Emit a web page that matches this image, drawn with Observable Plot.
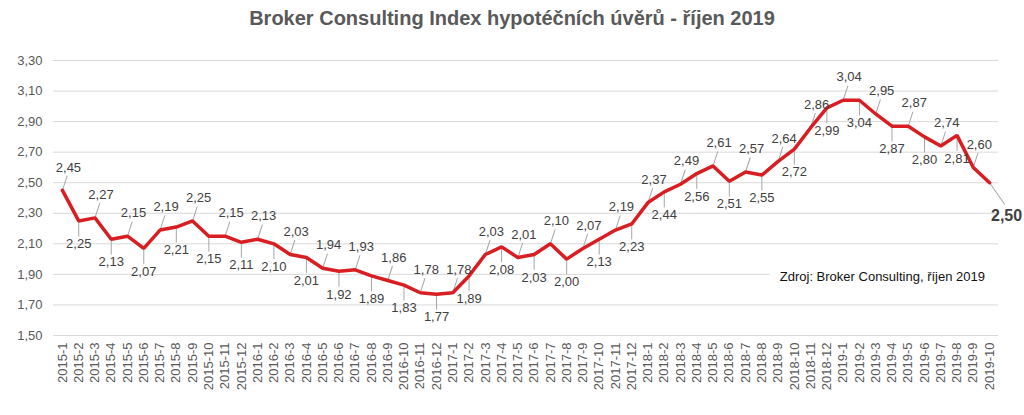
<!DOCTYPE html>
<html>
<head>
<meta charset="utf-8">
<script src="https://cdn.jsdelivr.net/npm/d3@7"></script>
<script src="https://cdn.jsdelivr.net/npm/@observablehq/plot@0.6"></script>
<style>
  body { margin: 0; background: #fff; font-family: "Liberation Sans", Arial, sans-serif; }
  #wrap { position: relative; width: 1024px; height: 415px; }
  #title { height: 36px; line-height: 37px; text-align: center; font-size: 20px; font-weight: bold; color: #595959; }
  #caption { position: absolute; left: 770px; top: 264px; width: 228px; height: 26px; line-height: 26px;
             background: #fff; text-align: right; font-size: 13px; color: #111; padding-right: 13px; box-sizing: border-box; }
</style>
</head>
<body>
<div id="wrap">
  <div id="title">Broker Consulting Index hypotéčních úvěrů - říjen 2019</div>
  <div id="chart"></div>
  <div id="caption">Zdroj: Broker Consulting, říjen 2019</div>
</div>
<script>
const years = [2015, 2016, 2017, 2018, 2019];
const months = years.flatMap(y => d3.range(1, 13).map(m => `${y}-${m}`)).slice(0, 58);
const values = [
  2.45, 2.25, 2.27, 2.13, 2.15, 2.07, 2.19, 2.21, 2.25, 2.15, 2.15, 2.11,
  2.13, 2.10, 2.03, 2.01, 1.94, 1.92, 1.93, 1.89, 1.86, 1.83, 1.78, 1.77,
  1.78, 1.89, 2.03, 2.08, 2.01, 2.03, 2.10, 2.00, 2.07, 2.13, 2.19, 2.23,
  2.37, 2.44, 2.49, 2.56, 2.61, 2.51, 2.57, 2.55, 2.64, 2.72, 2.86, 2.99,
  3.04, 3.04, 2.95, 2.87, 2.87, 2.80, 2.74, 2.81, 2.60, 2.50
];
const yTicks = [1.5, 1.7, 1.9, 2.1, 2.3, 2.5, 2.7, 2.9, 3.1, 3.3];

const fmt = v => v.toFixed(2).replace(".", ",");
const data = months.map((m, i) => ({month: m, v: values[i], i, last: i === months.length - 1}));
const above = data.filter(d => !d.last && d.i % 2 === 0);
const below = data.filter(d => !d.last && d.i % 2 === 1);
const lastPt = data.filter(d => d.last);

const leader = {draw(context, l) { context.moveTo(0, 0); context.lineTo(0, -l); }};

const chart = Plot.plot({
  width: 1024,
  height: 379,
  marginLeft: 53,
  marginRight: 26,
  marginTop: 24,
  marginBottom: 80,
  style: {fontFamily: "Liberation Sans, Arial, sans-serif", background: "#fff"},
  x: {type: "linear", domain: [-0.55, months.length - 0.45]},
  y: {domain: [1.5, 3.3]},
  marks: [
    Plot.ruleY(yTicks, {stroke: "#d9d9d9", strokeWidth: 1}),
    Plot.axisY({ticks: yTicks, tickFormat: fmt, tickSize: 0, tickPadding: 11, fontSize: 13, color: "#595959", label: null}),
    Plot.axisX({ticks: d3.range(months.length), tickFormat: i => months[i], tickRotate: -90, tickSize: 0, tickPadding: 7, fontSize: 13, color: "#595959", label: null}),
    Plot.vector(above, {x: "i", y: "v", length: 15, rotate: 18, anchor: "start", shape: leader, stroke: "#a6a6a6", strokeWidth: 1}),
    Plot.vector(below, {x: "i", y: "v", length: 15, rotate: 180, anchor: "start", shape: leader, stroke: "#a6a6a6", strokeWidth: 1}),
    Plot.vector(lastPt, {x: "i", y: "v", length: 26, rotate: 145, anchor: "start", shape: leader, stroke: "#a6a6a6", strokeWidth: 1}),
    Plot.lineY(data, {x: "i", y: "v", stroke: "#d81e22", strokeWidth: 3.5, strokeLinejoin: "miter"}),
    Plot.text(above, {x: "i", y: "v", text: d => fmt(d.v), dx: 6, dy: -23, fontSize: 13, fill: "#404040"}),
    Plot.text(below, {x: "i", y: "v", text: d => fmt(d.v), dy: 23, fontSize: 13, fill: "#404040"}),
    Plot.text(lastPt, {x: "i", y: "v", text: d => fmt(d.v), dx: 17, dy: 33, fontSize: 16, fontWeight: "bold", fill: "#404040"})
  ]
});
document.getElementById("chart").appendChild(chart);
</script>
</body>
</html>
